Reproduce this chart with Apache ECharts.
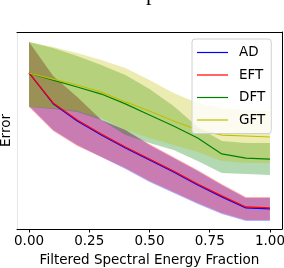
<!DOCTYPE html>
<html>
<head>
<meta charset="utf-8">
<script src="https://cdn.jsdelivr.net/npm/echarts@6/dist/echarts.min.js"></script>
<style>html,body{margin:0;padding:0;background:#fff}#c{width:284px;height:268px}</style>
</head>
<body>
<div id="c"></div>
<script>
// Filtered spectral energy fraction (x)
const fractions = [0, 0.1, 0.2, 0.3, 0.4, 0.5, 0.6, 0.7, 0.8, 0.9, 1.0];
const xTicks = [0, 0.25, 0.5, 0.75, 1.0];

// Mean error per method
const adMean  = [0.792, 0.636, 0.548, 0.477, 0.411, 0.350, 0.289, 0.223, 0.163, 0.107, 0.102];
const eftMean = [0.792, 0.640, 0.553, 0.482, 0.416, 0.355, 0.294, 0.228, 0.168, 0.112, 0.107];
const dftMean = [0.792, 0.756, 0.721, 0.685, 0.635, 0.579, 0.523, 0.462, 0.381, 0.360, 0.355];
const gftMean = [0.792, 0.761, 0.731, 0.695, 0.645, 0.599, 0.548, 0.503, 0.477, 0.472, 0.467];

// Band bounds (upper / lower)
const adUpper  = [0.949, 0.777, 0.670, 0.553, 0.503, 0.426, 0.360, 0.294, 0.223, 0.157, 0.157];
const adLower  = [0.624, 0.502, 0.426, 0.365, 0.305, 0.239, 0.183, 0.127, 0.076, 0.041, 0.041];
const eftUpper = [0.949, 0.777, 0.670, 0.553, 0.503, 0.431, 0.365, 0.299, 0.228, 0.162, 0.162];
const eftLower = [0.619, 0.497, 0.421, 0.365, 0.310, 0.244, 0.188, 0.132, 0.081, 0.046, 0.046];
const dftUpper = [0.949, 0.919, 0.878, 0.832, 0.782, 0.711, 0.624, 0.518, 0.447, 0.437, 0.437];
const dftLower = [0.619, 0.609, 0.594, 0.553, 0.477, 0.437, 0.401, 0.345, 0.284, 0.279, 0.274];
const gftUpper = [0.949, 0.924, 0.893, 0.858, 0.817, 0.756, 0.690, 0.640, 0.614, 0.604, 0.599];
const gftLower = [0.619, 0.614, 0.599, 0.563, 0.503, 0.462, 0.426, 0.391, 0.345, 0.335, 0.335];

const methods = ['AD', 'EFT', 'DFT', 'GFT'];
const colors = {AD: '#0000ff', EFT: '#ff0000', DFT: '#008000', GFT: '#bfbf00'};
const means = {AD: adMean, EFT: eftMean, DFT: dftMean, GFT: gftMean};
const uppers = {AD: adUpper, EFT: eftUpper, DFT: dftUpper, GFT: gftUpper};
const lowers = {AD: adLower, EFT: eftLower, DFT: dftLower, GFT: gftLower};

const FONT = 'DejaVu Sans';

function bandSeries(m) {
  const up = uppers[m], lo = lowers[m];
  return {
    type: 'custom',
    name: m + '_band',
    silent: true,
    z: 1,
    data: [0],
    renderItem: function (params, api) {
      const pts = [];
      for (let i = 0; i < fractions.length; i++) pts.push(api.coord([fractions[i], up[i]]));
      for (let i = fractions.length - 1; i >= 0; i--) pts.push(api.coord([fractions[i], lo[i]]));
      return {
        type: 'polygon',
        shape: {points: pts},
        style: {fill: colors[m], opacity: 0.3, stroke: null}
      };
    }
  };
}

function lineSeries(m) {
  return {
    type: 'line',
    name: m,
    z: 3,
    data: fractions.map((x, i) => [x, means[m][i]]),
    showSymbol: false,
    symbol: 'none',
    lineStyle: {color: colors[m], width: 1.2},
    itemStyle: {color: colors[m]}
  };
}

const series = [];
methods.forEach(m => series.push(bandSeries(m)));
methods.forEach(m => series.push(lineSeries(m)));

const chart = echarts.init(document.getElementById('c'), null, {renderer: 'canvas'});
chart.setOption({
  animation: false,
  backgroundColor: '#ffffff',
  textStyle: {fontFamily: FONT},
  grid: {left: 17, right: 2, top: 32, bottom: 39, containLabel: false, outerBoundsMode: 'none'},
  graphic: [{
    type: 'text',
    left: 146,
    top: -17,
    style: {text: 'p', font: '22px "Liberation Serif"', fill: '#000'}
  }],
  legend: {
    data: methods,
    orient: 'vertical',
    left: 192,
    top: 39,
    padding: [6, 6, 6, 5],
    itemGap: 7.5,
    itemWidth: 31,
    itemHeight: 1.2,
    icon: 'rect',
    backgroundColor: 'rgba(255,255,255,0.8)',
    borderColor: '#d0d0d0',
    borderWidth: 1,
    borderRadius: 3,
    textStyle: {fontFamily: FONT, fontSize: 13.5, color: '#000', lineHeight: 15, padding: [0, 0, 0, 6]}
  },
  xAxis: [{
    type: 'value',
    min: -0.05,
    max: 1.05,
    position: 'bottom',
    name: 'Filtered Spectral Energy Fraction',
    nameLocation: 'middle',
    nameGap: 24,
    nameTextStyle: {fontFamily: FONT, fontSize: 13.5, color: '#000'},
    axisLine: {show: true, onZero: false, lineStyle: {color: '#000', width: 1}},
    axisTick: {show: true, length: 3.5, customValues: xTicks, lineStyle: {color: '#000'}},
    axisLabel: {
      customValues: xTicks, margin: 5, fontFamily: FONT, fontSize: 13.5, color: '#000',
      formatter: v => v.toFixed(2)
    },
    splitLine: {show: false}
  }, {
    type: 'value', min: -0.05, max: 1.05, position: 'top',
    axisLine: {show: true, onZero: false, lineStyle: {color: '#000', width: 1}},
    axisTick: {show: false}, axisLabel: {show: false}, splitLine: {show: false}
  }],
  yAxis: [{
    type: 'value',
    min: 0,
    max: 1,
    position: 'left',
    name: 'Error',
    nameLocation: 'middle',
    nameGap: 4,
    nameRotate: 90,
    nameTextStyle: {fontFamily: FONT, fontSize: 13.5, color: '#000'},
    axisLine: {show: true, onZero: false, lineStyle: {color: '#e6e6e6', width: 1}},
    axisTick: {show: false},
    axisLabel: {show: false},
    splitLine: {show: false}
  }, {
    type: 'value', min: 0, max: 1, position: 'right',
    axisLine: {show: true, onZero: false, lineStyle: {color: '#000', width: 1}},
    axisTick: {show: false}, axisLabel: {show: false}, splitLine: {show: false}
  }],
  series: series
});
</script>
</body>
</html>
